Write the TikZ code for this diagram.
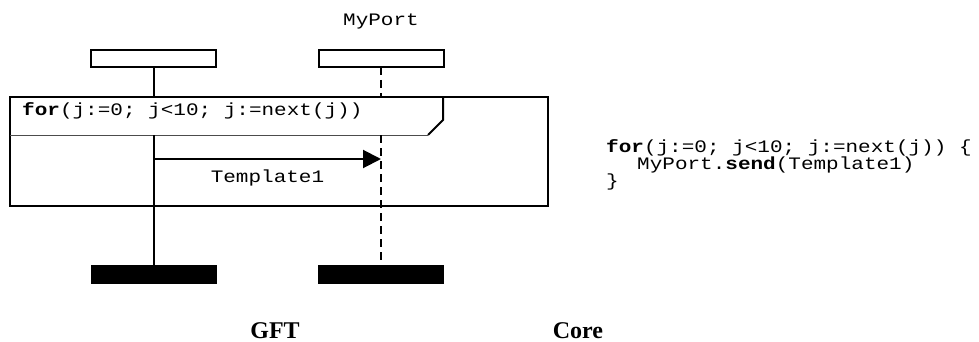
\documentclass[tikz,border=0pt]{standalone}
\usepackage{fontspec}
\setmainfont{Liberation Serif}
\setmonofont[FakeStretch=1.2]{Liberation Mono}
\usetikzlibrary{arrows.meta}
\begin{document}
\begin{tikzpicture}[x=1pt,y=-1pt,
  headbox/.style={draw, line width=2pt, minimum width=125pt, minimum height=17pt, inner sep=0pt, outer sep=0pt},
  endbox/.style={fill=black, minimum width=126pt, minimum height=19pt, inner sep=0pt, outer sep=0pt},
  framebox/.style={draw, line width=2.2pt, minimum width=538pt, minimum height=109pt, inner sep=0pt, outer sep=0pt},
  codetext/.style={font=\fontsize{17.5}{17.5}\selectfont\ttfamily, inner sep=0pt, anchor=base west},
  labeltext/.style={font=\fontsize{17.5}{17.5}\selectfont\ttfamily, inner sep=0pt, anchor=base},
  titletext/.style={font=\fontsize{24}{24}\selectfont\bfseries, inner sep=0pt, anchor=base},
  solidlife/.style={line width=2pt},
  dashlife/.style={line width=2pt, dash pattern=on 8pt off 5pt},
  msg/.style={line width=2pt, -{Triangle[length=18pt,width=18pt]}}
]
\useasboundingbox (0,0) rectangle (979,342);
% frame
\node[framebox] (frame) at (279,151.5) {};
\coordinate (hbl) at (10,135);
\coordinate (hbr) at (428,135);
\coordinate (hc) at (443,120);
\coordinate (ht) at (443,97);
\draw[line width=1pt, black!70] (hbl) -- (hbr);
\draw[line width=2pt] (hbr) -- (hc) -- (ht);
\node[codetext] (fortxt) at (22,116) {\textbf{for}(j:=0; j<10; j:=next(j))};
% instances
\node[headbox] (tl) at (153.5,58.5) {};
\node[headbox] (tr) at (381,58.5) {};
\node[labeltext] (myport) at (381,26) {MyPort};
\node[endbox] (bl) at (153.5,274.5) {};
\node[endbox] (br) at (381,274.5) {};
\coordinate (lt) at (153.5,97);
\coordinate (lh) at (153.5,135);
\coordinate (rt) at (381,97);
\coordinate (rh) at (381,135);
\draw[solidlife] (tl.south) -- (lt);
\draw[solidlife] (lh) -- (bl.north);
\draw[dashlife] (tr.south) -- (rt);
\draw[dashlife] (rh) -- (br.north);
% message
\coordinate (ms) at (153.5,159);
\coordinate (me) at (381,159);
\draw[msg] (ms) -- (me);
\node[labeltext] (tmpl) at (267.5,182) {Template1};
% core code
\node[codetext] (c1) at (606,152) {\textbf{for}(j:=0; j<10; j:=next(j)) \{};
\node[codetext] (c2) at (637,169) {MyPort.\textbf{send}(Template1)};
\node[codetext] (c3) at (606,186) {\}};
% titles
\node[titletext] (gft) at (275,338) {GFT};
\node[titletext] (core) at (578,338) {Core};
\end{tikzpicture}
\end{document}
